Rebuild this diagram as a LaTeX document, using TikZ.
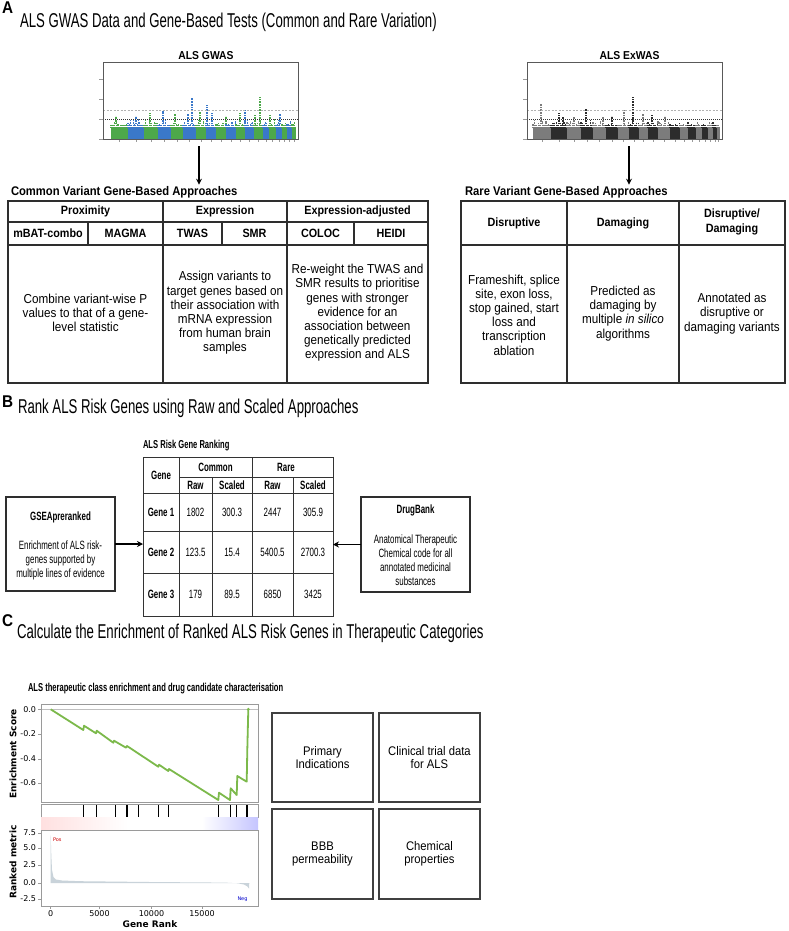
\documentclass[tikz,border=0pt]{standalone}
\usepackage{fontspec}
\setmainfont{Liberation Sans}[FakeStretch=0.9]
\newfontfamily\cond{Liberation Sans}[FakeStretch=0.66]
\newfontfamily\mpl{DejaVu Sans}
\usetikzlibrary{arrows.meta,fit,calc}
\definecolor{gwg}{HTML}{4DA84A}
\definecolor{gwb}{HTML}{3A78C9}
\definecolor{exl}{HTML}{7C7C7C}
\definecolor{exd}{HTML}{2C2C2C}
\definecolor{esg}{HTML}{7CB94B}
\definecolor{tline}{HTML}{2E2E2E}
\definecolor{axg}{HTML}{9A9A9A}
\definecolor{rmfill}{HTML}{C9D3DA}
\pgfdeclarehorizontalshading{rankbar}{100bp}{color(0bp)=(red!38); color(22bp)=(red!14); color(45bp)=(white); color(62bp)=(white); color(82bp)=(blue!35); color(100bp)=(blue!85)}
\newcommand\fsz[2]{\fontsize{#1}{#2}\selectfont}
\begin{document}
\begin{tikzpicture}[x=1pt,y=-1pt,
  every node/.style={inner sep=0pt,outer sep=0pt},
  lett/.style={anchor=base west,font=\bfseries\fsz{17}{20}},
  big/.style={anchor=base west,font=\cond\fsz{20}{24}},
  plttitle/.style={font=\bfseries\fsz{11.5}{13}},
  sec/.style={anchor=west,font=\bfseries\fsz{12.5}{14}},
  hdr/.style={align=center,font=\bfseries\fsz{12}{14.3}},
  body/.style={align=center,font=\fsz{13}{14.2}},
  cb/.style={align=center,font=\cond\fsz{12}{14}},
  cbh/.style={align=center,font=\cond\bfseries\fsz{12}{14}},
  tl/.style={line width=1.3pt,draw=tline},
  bx/.style={line width=1.3pt,draw=tline},
  bx2/.style={line width=1.1pt,draw=black!75,align=center,font=\fsz{12.5}{13.5},minimum width=101pt},
  arr/.style={-{Stealth[length=6pt,width=6pt]},line width=1.3pt},
  dots/.style={line width=1.1pt,dash pattern=on 0.9pt off 0.7pt},
  tick/.style={axg,line width=0.5pt},
  frm/.style={draw=gray!70!black,line width=0.8pt},
  mtick/.style={font=\mpl\fsz{8}{9}},
  mlab/.style={font=\mpl\bfseries\fsz{9}{10}}]
\useasboundingbox (0,0) rectangle (788,931);
\fill[white] (0,0) rectangle (788,931);

% ================= Panel A =================
\node[lett] (labA) at (2,14) {A};
\node[big] (titA) at (20,28) {ALS GWAS Data and Gene-Based Tests (Common and Rare Variation)};

% ---- GWAS Manhattan plot
\node[plttitle] (gwasT) at (206,55.5) {ALS GWAS};
\pgfmathsetseed{7}
\foreach \xa/\xb/\col in {111/128/gwg,128/144/gwb,144/158/gwg,158/171/gwb,171/183/gwg,183/196/gwb,196/206/gwg,206/216/gwb,216/226/gwg,226/236/gwb,236/245/gwg,245/254/gwb,254/263/gwg,263/269/gwb,269/276/gwg,276/282/gwb,282/287/gwg,287/292/gwb,292/296/gwg}{
  \fill[\col] (\xa,127) rectangle (\xb,139);
  \pgfmathsetmacro\xc{\xa+1.3}
  \pgfmathsetmacro\xd{\xb-0.5}
  \foreach \xx in {\xa,\xc,...,\xd}{
    \pgfmathsetmacro\hh{125.5-7*rnd*rnd}
    \draw[\col,dots] (\xx,127.5) -- (\xx,\hh);
  }
  \draw[tick] ({(\xa+\xb)/2},139) -- ({(\xa+\xb)/2},142);
}
\foreach \sx/\sy/\col in {192/98/gwb,207/105/gwb,260/97/gwg,163/111/gwb,150/113/gwg,200/112/gwg,245/110/gwb,240/113/gwg,175/114/gwg,188/114/gwb,136/116/gwb,116/116/gwg,280/114/gwb,270/115/gwg,212/113/gwb,226/116/gwg,255/115/gwg}{
  \draw[\col,dots] (\sx,124) -- (\sx,\sy);
}
\draw[gray!60,dash pattern=on 2pt off 1.5pt,line width=0.6pt] (103,110) -- (298,110);
\draw[gray!40!black,dash pattern=on 1pt off 1pt,line width=0.6pt] (103,119) -- (298,119);
\node[fit={(103,62)(298,139)},frm] (gwas) {};
\foreach \ty in {79,99,119,139} \draw[tick] (99,\ty) -- (103,\ty);

% ---- ExWAS Manhattan plot
\node[plttitle] (exT) at (629.5,55.5) {ALS ExWAS};
\foreach \xa/\xb/\col in {533/551/exl,551/567/exd,567/581/exl,581/593/exd,593/606/exl,606/618/exd,618/629/exl,629/639/exd,639/648/exl,648/658/exd,658/670/exl,670/680/exd,680/688/exl,688/696/exd,696/702/exl,702/708/exd,708/713/exl,713/717/exd,717/720/exl}{
  \fill[\col] (\xa,127) rectangle (\xb,139);
  \pgfmathsetmacro\xc{\xa+1.3}
  \pgfmathsetmacro\xd{\xb-0.5}
  \foreach \xx in {\xa,\xc,...,\xd}{
    \pgfmathsetmacro\hh{125.5-7*rnd*rnd}
    \draw[\col,dots] (\xx,127.5) -- (\xx,\hh);
  }
  \draw[tick] ({(\xa+\xb)/2},139) -- ({(\xa+\xb)/2},142);
}
\foreach \sx/\sy/\col in {541/104/exl,559/113/exd,586/109/exd,633/97/exd,624/110/exl,563/117/exd,652/115/exd,643/114/exl,574/117/exl,603/117/exl,612/116/exd,665/116/exl}{
  \draw[\col,dots] (\sx,124) -- (\sx,\sy);
}
\draw[gray!60,dash pattern=on 2pt off 1.5pt,line width=0.6pt] (527,110) -- (722,110);
\draw[gray!40!black,dash pattern=on 1pt off 1pt,line width=0.6pt] (527,119) -- (722,119);
\node[fit={(527,62)(722,139)},frm] (exwas) {};
\foreach \ty in {79,99,119,139} \draw[tick] (523,\ty) -- (527,\ty);

% ---- Common variant table
\node[sec] (cvT) at (11,192) {Common Variant Gene-Based Approaches};
\node[fit={(8,201)(428,383)},tl] (cvtab) {};
\draw[tl] (8,222) -- (428,222);
\draw[tl] (8,245) -- (428,245);
\draw[tl] (163,201) -- (163,383);
\draw[tl] (287,201) -- (287,383);
\foreach \vx in {88,222,354} \draw[tl] (\vx,222) -- (\vx,245);
\node[hdr] (hProx) at (85.5,211.5) {Proximity};
\node[hdr] (hExpr) at (225,211.5) {Expression};
\node[hdr] (hExad) at (357.5,211.5) {Expression-adjusted};
\node[hdr] (mbat) at (48,233.5) {mBAT-combo};
\node[hdr] (magma) at (125.5,233.5) {MAGMA};
\node[hdr] (twas) at (192.5,233.5) {TWAS};
\node[hdr] (smr) at (254.5,233.5) {SMR};
\node[hdr] (coloc) at (320.5,233.5) {COLOC};
\node[hdr] (heidi) at (391,233.5) {HEIDI};
\node[body] (bProx) at (85.5,313) {Combine variant-wise P\\values to that of a gene-\\level statistic};
\node[body] (bExpr) at (225,313) {Assign variants to\\target genes based on\\their association with\\mRNA expression\\from human brain\\samples};
\node[body] (bExad) at (357.5,313) {Re-weight the TWAS and\\SMR results to prioritise\\genes with stronger\\evidence for an\\association between\\genetically predicted\\expression and ALS};

% ---- Rare variant table
\node[sec] (rvT) at (465,192) {Rare Variant Gene-Based Approaches};
\node[fit={(461,201)(785,383)},tl] (rvtab) {};
\draw[tl] (461,245) -- (785,245);
\draw[tl] (567,201) -- (567,383);
\draw[tl] (679,201) -- (679,383);
\node[hdr] (hDisr) at (514,223) {Disruptive};
\node[hdr] (hDam) at (623,223) {Damaging};
\node[hdr] (hDD) at (732,222) {Disruptive/\\Damaging};
\node[body] (bDisr) at (514,315) {Frameshift, splice\\site, exon loss,\\stop gained, start\\loss and\\transcription\\ablation};
\node[body] (bDam) at (623,313.5) {Predicted as\\damaging by\\multiple \textit{in silico}\\algorithms};
\node[body] (bDD) at (732,313.5) {Annotated as\\disruptive or\\damaging variants};

% ---- arrows A
\coordinate (gA) at (199,146);
\coordinate (eA) at (629,146);
\draw[arr,shorten >=1.5pt] (gA) -- (gA |- cvT.north);
\draw[arr,shorten >=1.5pt] (eA) -- (eA |- rvT.north);

% ================= Panel B =================
\node[lett] (labB) at (2,407) {B};
\node[big] (titB) at (18,413) {Rank ALS Risk Genes using Raw and Scaled Approaches};
\node[fit={(143,457)(333,616)},draw=black!80,line width=0.9pt] (rank) {};
\node[anchor=south west,font=\cond\bfseries\fsz{11.5}{13}] (rkT) at ([yshift=6pt]rank.north west) {ALS Risk Gene Ranking};
\begin{scope}[draw=black!80,line width=0.9pt]
\draw (179,477) -- (333,477);
\draw (143,493) -- (333,493);
\draw (143,531) -- (333,531);
\draw (143,573) -- (333,573);
\draw (179,457) -- (179,616);
\draw (252,457) -- (252,616);
\draw (212,477) -- (212,616);
\draw (293,477) -- (293,616);
\end{scope}
\node[cbh] (rkGene) at (161,475) {Gene};
\node[cbh] (rkCom) at (215.5,467) {Common};
\node[cbh] (rkRare) at (286,467) {Rare};
\node[cbh] (rkRaw1) at (195.5,485) {Raw};
\node[cbh] (rkSc1) at (232,485) {Scaled};
\node[cbh] (rkRaw2) at (272.5,485) {Raw};
\node[cbh] (rkSc2) at (313,485) {Scaled};
\foreach \rw/\yy/\va/\vb/\vc/\vd in {1/512/1802/300.3/2447/305.9,2/552/123.5/15.4/5400.5/2700.3,3/594.5/179/89.5/6850/3425}{
  \node[cbh] (gene\rw) at (161,\yy) {Gene \rw};
  \node[cb] (v\rw a) at (195.5,\yy) {\va};
  \node[cb] (v\rw b) at (232,\yy) {\vb};
  \node[cb] (v\rw c) at (272.5,\yy) {\vc};
  \node[cb] (v\rw d) at (313,\yy) {\vd};
}
\node[fit={(6,497)(115,591)},bx] (gsea) {};
\node[cbh] (gseaT) at (60.5,517) {GSEApreranked};
\node[cb] (gseaB) at (60.5,560) {Enrichment of ALS risk-\\genes supported by\\multiple lines of evidence};
\node[fit={(361,497)(470,592)},bx] (drug) {};
\node[cbh] (drugT) at (415.5,510) {DrugBank};
\node[cb] (drugB) at (415.5,560.5) {Anatomical Therapeutic\\Chemical code for all\\annotated medicinal\\substances};
\draw[arr] (gsea.east) -- (gsea.east -| rank.west);
\draw[arr] (drug.west) -- (drug.west -| rank.east);

% ================= Panel C =================
\node[lett] (labC) at (2,626) {C};
\node[big] (titC) at (17,638) {Calculate the Enrichment of Ranked ALS Risk Genes in Therapeutic Categories};
\node[anchor=west,font=\cond\bfseries\fsz{11.5}{13}] (subC) at (28,689) {ALS therapeutic class enrichment and drug candidate characterisation};

% GSEA plot
\draw[gray!50,line width=0.5pt] (41,709.3) -- (258,709.3);
\draw[esg,line width=1.8pt,line join=round] (50.7,709.3) -- (83.3,730) -- (84,725.7) -- (96,733.3) -- (96.7,730.7) -- (113.3,742.7) -- (114,740.7) -- (126,747.7) -- (127,746) -- (158.3,766.7) -- (159,764.7) -- (168.3,771) -- (169,769) -- (218.3,800) -- (219,792.7) -- (230,800) -- (230.7,788.3) -- (236.7,795) -- (237.3,776) -- (246.7,781.7) -- (247.3,750) -- (248.3,709.3);
\fill[esg] (248.3,709.3) circle (1.6);
\node[fit={(41,704)(258,802)},draw=axg,line width=0.8pt] (esP) {};
\foreach \hx in {83.3,96.7,115,126,127,138.3,158.3,168.3,218.3,230,236.7,246.7,247.3}
  \draw[black,line width=0.5pt] (\hx,804) -- (\hx,817);
\node[fit={(41,804)(258,817)},draw=axg,line width=0.8pt] (hitP) {};
\shade[shading=rankbar] (41,817) rectangle (258,830);
\node[fit={(41,817)(258,830)}] (barP) {};
\fill[rmfill] (50.7,883) -- (50.7,835) -- (51.3,855) -- (52,870) -- (53.5,877) -- (56,879.5) -- (62,880.5) -- (80,881.2) -- (150,882) -- (225,882.6) -- (238,883.3) -- (244,884.5) -- (247.5,886.5) -- (249,888.5) -- (249.3,883) -- cycle;
\node[fit={(41,830)(258,906)},draw=axg,line width=0.8pt] (rmP) {};
\node[anchor=west,text=red!80!black,font=\mpl\fsz{5}{6}] (pos) at (53,840) {Pos};
\node[text=blue!80!black,font=\mpl\fsz{5}{6}] (neg) at (242.5,899) {Neg};
\foreach \lab/\ty in {0.0/709.3,-0.2/734,-0.4/759,-0.6/783}{
  \draw[tick] (38,\ty) -- (41,\ty);
  \node[mtick,anchor=east] at (36,\ty) {\lab};
}
\foreach \lab/\ty in {7.5/833,5.0/848,2.5/865,0.0/883,-2.5/899}{
  \draw[tick] (38,\ty) -- (41,\ty);
  \node[mtick,anchor=east] at (36,\ty) {\lab};
}
\foreach \lab/\tx in {0/50.7,5000/99.5,10000/151.5,15000/202}{
  \draw[tick] (\tx,906) -- (\tx,909);
  \node[mtick] at (\tx,914) {\lab};
}
\node[mlab] (xlab) at (150,924) {Gene Rank};
\node[mlab,rotate=90] (ylab1) at (13,754) {Enrichment Score};
\node[mlab,rotate=90] (ylab2) at (13,862) {Ranked metric};

% Right boxes
\node[bx2,minimum height=89pt,draw] (c1) at (322.5,757.5) {Primary\\Indications};
\node[bx2,minimum height=89pt,draw] (c2) at (429.5,757.5) {Clinical trial data\\for ALS};
\node[bx2,minimum height=90pt,draw] (c3) at (322.5,854) {BBB\\permeability};
\node[bx2,minimum height=90pt,draw] (c4) at (429.5,854) {Chemical\\properties};
\end{tikzpicture}
\end{document}
